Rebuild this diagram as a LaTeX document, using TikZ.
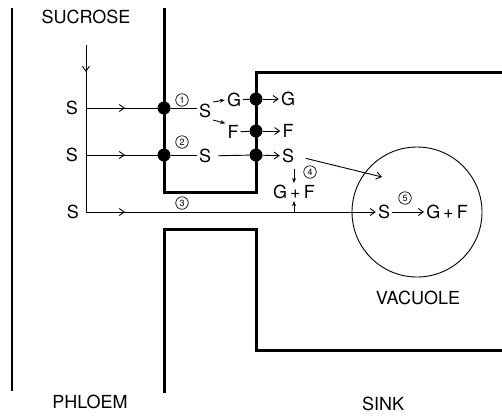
\documentclass[tikz,border=0pt]{standalone}
\usepackage{fontspec}
\setsansfont{TeX Gyre Heros}
\usetikzlibrary{arrows.meta, positioning, decorations.markings}

\begin{document}
\begin{tikzpicture}[x=1pt, y=-1pt,
    every node/.style={font=\sffamily\fontsize{18}{18}\selectfont, inner sep=2pt},
    wall/.style={line width=3pt, line join=miter},
    thinline/.style={line width=0.9pt},
    flow/.style={-{Straight Barb[length=5pt,width=7pt]}, line width=0.9pt},
    tinyflow/.style={-{Stealth[length=5pt,width=4pt]}, line width=0.9pt},
    midarrow/.style={line width=0.9pt, postaction={decorate},
        decoration={markings, mark=at position #1 with {\arrow{Straight Barb[length=5pt,width=7pt]}}}},
    dot/.style={circle, fill=black, inner sep=0pt, minimum size=13pt},
    num/.style={circle, draw, line width=0.7pt, inner sep=0pt, minimum size=12.5pt, font=\sffamily\fontsize{9}{9}\selectfont}
]
\useasboundingbox (0,0) rectangle (502,416);

% Walls
\draw[line width=2pt] (12,8) -- (12,391);
\draw[wall] (164,8) -- (164,192) -- (256,192) -- (256,72) -- (502,72);
\draw[wall] (164,393) -- (164,229) -- (256,229) -- (256,350) -- (502,350);

% Labels
\node (sucrose) at (86,17) {SUCROSE};
\node (phloem)  at (90,402) {PHLOEM};
\node (sink)    at (383,404) {SINK};
\node (vaclab)  at (418,298) {VACUOLE};

% Phloem side
\node (s1) at (72,108) {S};
\node (s2) at (72,155) {S};
\node (s3) at (73,212) {S};
\coordinate (top)  at (86,45);
\coordinate (j1)   at (86,108);
\coordinate (j2)   at (86,155);
\coordinate (bend) at (86,212);

% Carriers on the walls
\node[dot] (d1) at (164,108) {};
\node[dot] (d2) at (164,155) {};
\node[dot] (dG) at (256,99) {};
\node[dot] (dF) at (256,131) {};
\node[dot] (dS) at (256,155) {};

% Cell contents
\node (c1s) at (205,111) {S};
\node (g1)  at (234,100) {G};
\node (f1)  at (233,132) {F};
\node (c2s) at (205,156) {S};
\node (go)  at (288,99) {G};
\node (fo)  at (288,131) {F};
\node (so)  at (288,156) {S};
\node (gf4) at (294,192) {G\,+\,F};

% Vacuole
\node[draw, circle, line width=0.9pt, minimum size=130pt] (vac) at (417,212) {};
\node (vs)  at (384,212) {S};
\node (vgf) at (447,212) {G\,+\,F};
\coordinate (vin) at (382,177);

% Step numbers
\node[num] (n1) at (182,100) {1};
\node[num] (n2) at (182,142) {2};
\node[num] (n3) at (182,203) {3};
\node[num] (n4) at (310,172) {4};
\node[num] (n5) at (405,198) {5};

% Routes
\draw[midarrow=27pt] (top) -- (bend);
\draw[midarrow=39pt] (j1) -- (d1.center);
\draw[thinline] (d1) -- (d1 -| c1s.west);
\draw[midarrow=39pt] (j2) -- (d2.center);
\draw[thinline] (d2) -- (d2 -| c2s.west);
\draw[flow, midarrow=39pt] (bend) -- (vs);

\draw[tinyflow] (c1s.north east) -- (g1.west);
\draw[tinyflow] (c1s.south east) -- (f1.north west);
\draw[thinline] (g1) -- (dG);
\draw[thinline] (f1) -- (dF);
\draw[thinline, shorten <=5pt] (c2s) -- (dS);
\draw[flow] (dG) -- (go);
\draw[flow] (dF) -- (fo);
\draw[flow] (dS) -- (so);

\draw[flow, shorten <=10pt] (so.east) -- (vin);
\draw[tinyflow, shorten <=4pt] (gf4.north |- so.south) -- (gf4.north);
\draw[tinyflow] (gf4.south |- bend) -- (gf4.south);
\draw[flow] (vs) -- (vgf);
\end{tikzpicture}
\end{document}
